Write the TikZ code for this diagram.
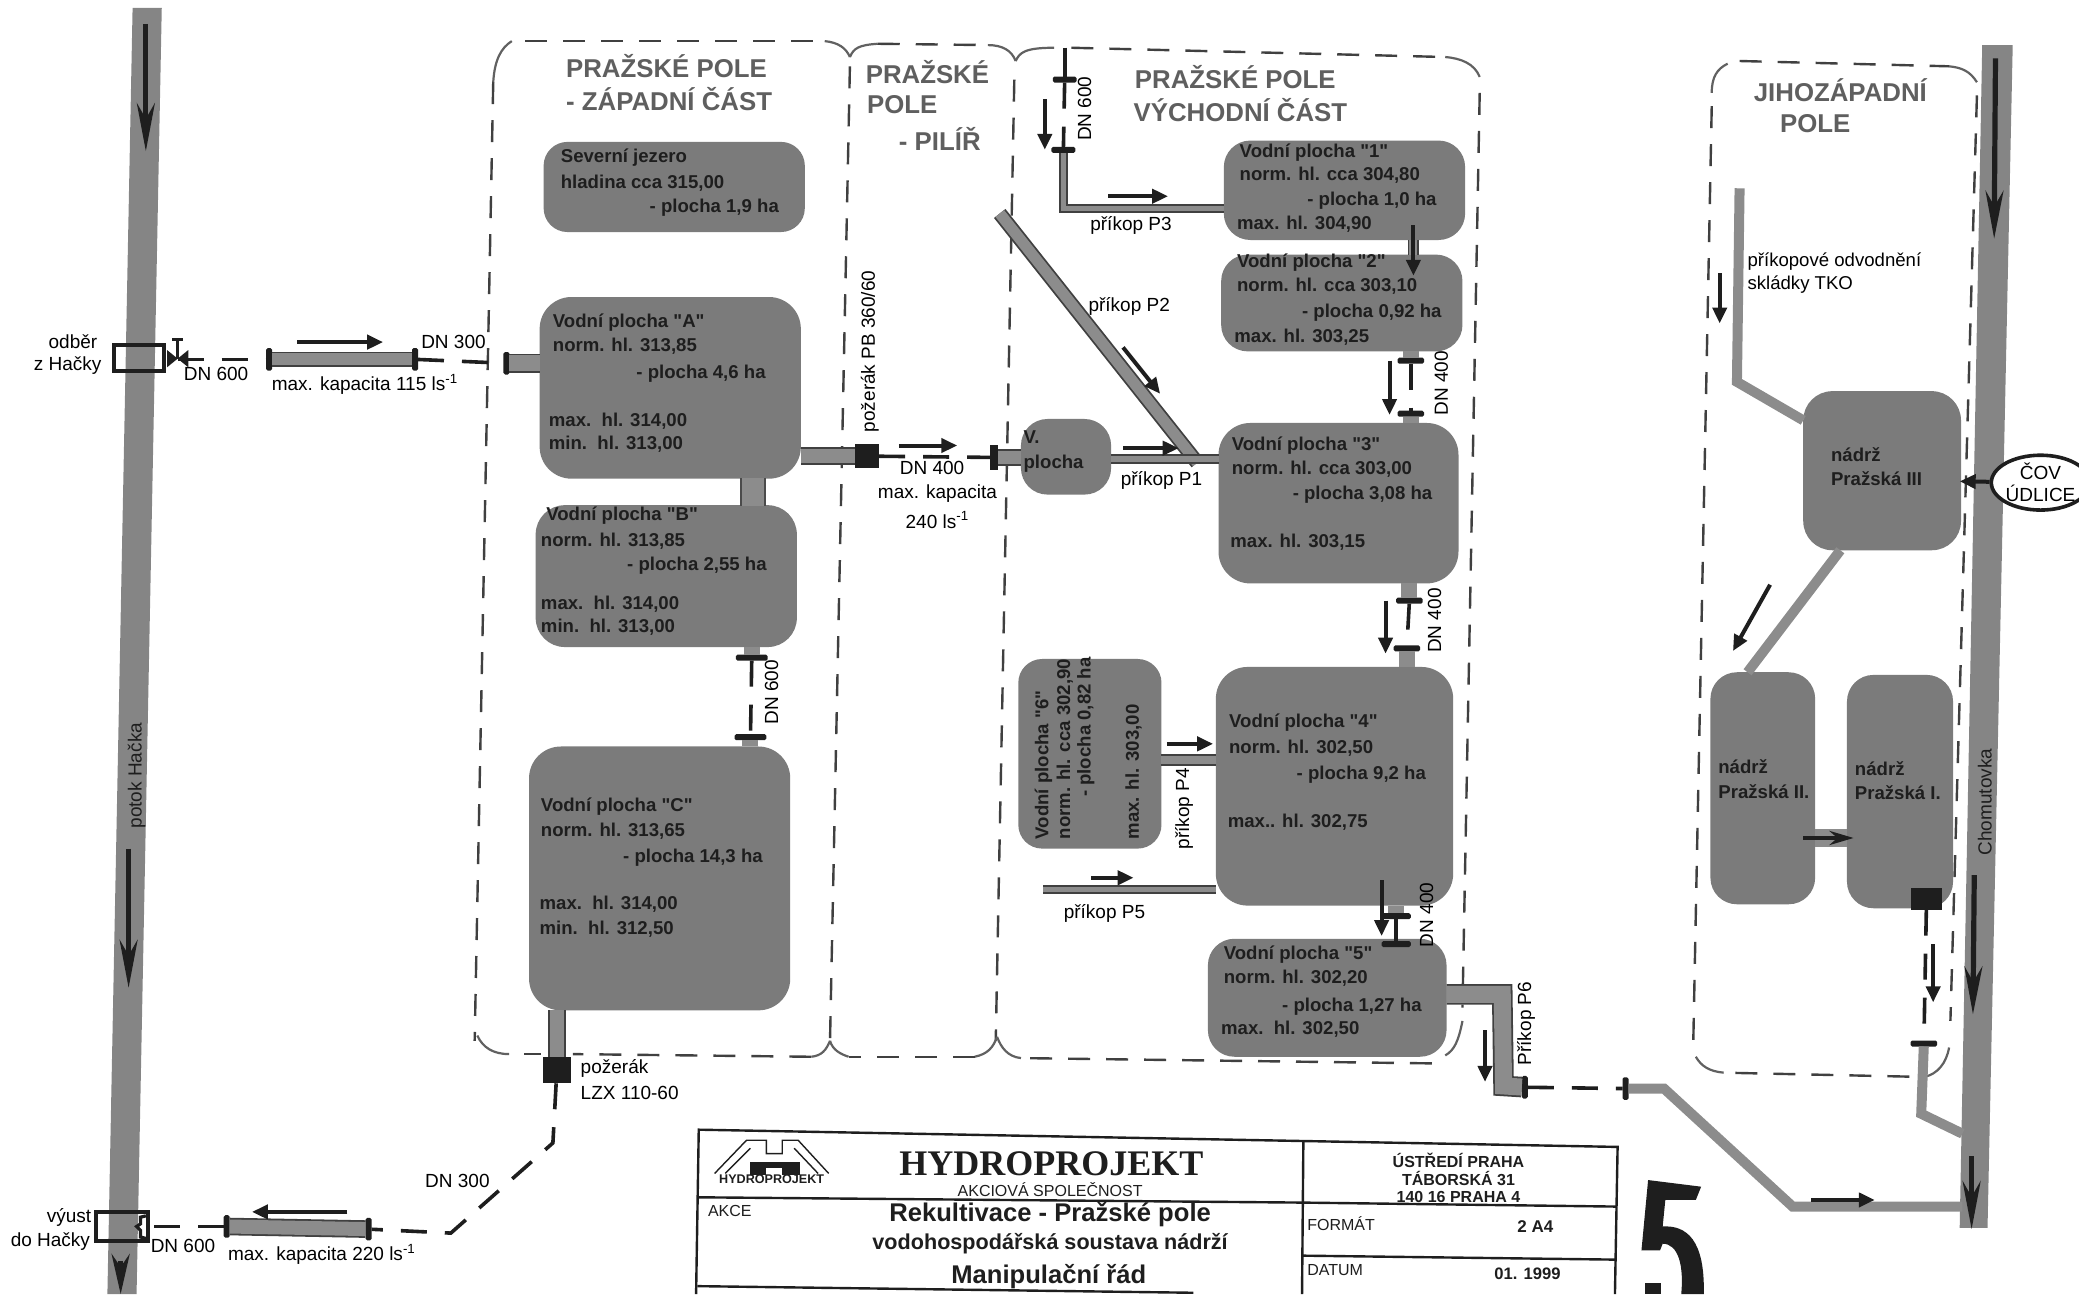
\documentclass[tikz,border=0pt]{standalone}
\usepackage{fontspec}
\setmainfont[Ligatures=TeXOff]{Liberation Sans}
\newfontfamily\serifb{Liberation Serif}
\usetikzlibrary{arrows.meta,calc,shapes.geometric}
\definecolor{pondgray}{HTML}{7B7B7B}
\definecolor{rivergray}{HTML}{858585}
\definecolor{pipegray}{HTML}{8C8C8C}
\definecolor{titlegray}{HTML}{5F5F5F}
\definecolor{ink}{HTML}{1E1E1E}
\newcounter{tn}
\newcommand\lab[4][]{\stepcounter{tn}\node[txt,#1] (t\arabic{tn}) at (#2,#3) {#4};}
\newcommand\pl[3]{\lab[pondtxt]{#1}{#2}{#3}}
\newcommand\pondbox[6][18]{%
  \pgfmathsetmacro\pw{(#5-#3)*0.663}\pgfmathsetmacro\ph{(#6-#4)*0.663}%
  \pgfmathsetmacro\pcx{(#3+#5)/2}\pgfmathsetmacro\pcy{(#4+#6)/2}%
  \pgfmathsetmacro\pr{#1*0.663}%
  \node[pond,minimum width=\pw pt,minimum height=\ph pt,rounded corners=\pr pt] (#2) at (\pcx,\pcy) {};}
\newcommand\flh[4]{\pgfmathsetmacro\pw{#4*0.663}\node[flange,minimum width=\pw pt,minimum height=3pt] (#1) at (#2,#3) {};}
\newcommand\flv[4]{\pgfmathsetmacro\pw{#4*0.663}\node[flange,minimum height=\pw pt,minimum width=3pt] (#1) at (#2,#3) {};}
\newcommand\blk[5]{\pgfmathsetmacro\pw{#4*0.663}\pgfmathsetmacro\ph{#5*0.663}\node[flange,minimum width=\pw pt,minimum height=\ph pt,rounded corners=0pt] (#1) at (#2,#3) {};}
\tikzset{
  txt/.style={inner sep=0pt,outer sep=0pt,font=\fontsize{9.5}{11}\selectfont,text=black},
  pondtxt/.style={anchor=west,font=\fontsize{9.3}{11}\selectfont\bfseries,text=ink},
  ttl/.style={anchor=west,font=\fontsize{12.9}{14}\selectfont\bfseries,text=titlegray},
  pond/.style={fill=pondgray,draw=none,inner sep=0pt,outer sep=0pt},
  flange/.style={fill=ink,draw=none,inner sep=0pt,outer sep=0pt,rounded corners=0.8pt},
  region/.style={draw=ink!85,line width=1.2pt,dash pattern=on 11pt off 8pt},
  corner/.style={draw=ink!70,line width=1.1pt},
  dpipe/.style={draw=ink,line width=1.8pt,dash pattern=on 13pt off 9pt},
  gpipe/.style={draw=ink!85,line width=0.9pt,double=pipegray,double distance=#1},
  wide/.style={draw=pipegray,line width=#1},
  flow/.style={draw=ink,line width=2pt,-{Triangle[length=8pt,width=7pt]}},
  bigflow/.style={draw=ink,line width=2.6pt,-{Stealth[length=24pt,width=9pt]}},
  frame/.style={draw=ink,line width=1.2pt},
  thickbox/.style={draw=ink,line width=2pt,fill=none,inner sep=0pt},
  cov/.style={draw=ink,line width=1.8pt,ellipse,fill=white,inner sep=0pt,minimum width=44pt,minimum height=26pt,align=center,font=\fontsize{9.5}{11}\selectfont},
  tb/.style={anchor=center,text=ink},
  tbl/.style={anchor=west,text=ink,font=\fontsize{8}{9}\selectfont},
}
\begin{document}
\begin{tikzpicture}[x=0.663pt,y=-0.663pt]
\useasboundingbox (0,0) rectangle (1568,976);
% rivers
\fill[rivergray] (100,6) -- (122,6) -- (103,976) -- (81,976) -- cycle;
\fill[rivergray] (1495,34) -- (1518,34) -- (1499,926) -- (1478,926) -- cycle;
\coordinate (hA) at (110,18); \coordinate (hB) at (110,114);
\draw[bigflow] (hA) -- (hB);
\coordinate (hC) at (97,640); \coordinate (hD) at (97,745);
\draw[bigflow] (hC) -- (hD);
\coordinate (hE) at (91,951); \coordinate (hF) at (91,976);
\draw[draw=ink,line width=2.6pt,-{Stealth[length=20pt,width=9pt]}] (hE) -- (hF);
\coordinate (cA) at (1505,44); \coordinate (cB) at (1504,180);
\draw[bigflow] (cA) -- (cB);
\coordinate (cC) at (1489,660); \coordinate (cD) at (1488,765);
\draw[bigflow] (cC) -- (cD);
\coordinate (cE) at (1487,872); \coordinate (cF) at (1487,927);
\draw[bigflow] (cE) -- (cF);
\lab[rotate=90,text=ink]{103}{585}{potok Hačka}
\lab[rotate=90,text=ink]{1497}{605}{Chomutovka}

% regions
\draw[region] (372,62) -- (358,785);
\draw[corner] (372,62) .. controls (373,45) and (378,36) .. (386,31);
\draw[region] (396,31) -- (622,31);
\draw[corner] (622,31) .. controls (632,32) and (638,36) .. (641,43);
\draw[corner] (641,43) .. controls (644,36) and (648,34) .. (662,33);
\draw[region] (662,33) -- (745,34);
\draw[corner] (745,34) .. controls (756,34) and (763,38) .. (766,46);
\draw[corner] (766,46) .. controls (769,40) and (772,36) .. (795,36);
\draw[region] (641,50) -- (626,785);
\draw[region] (765,60) -- (751,785);
\draw[region] (808,36) -- (1090,43);
\draw[corner] (1090,43) .. controls (1102,44) and (1112,48) .. (1116,58);
\draw[region] (1116,70) -- (1103,760);
\draw[corner] (1103,770) .. controls (1100,785) and (1097,792) .. (1090,796);
\draw[region] (1080,802) -- (770,798);
\draw[corner] (770,798) .. controls (760,797) and (755,790) .. (752,782);
\draw[corner] (752,782) .. controls (749,790) and (745,795) .. (735,797);
\draw[region] (735,797) -- (640,797);
\draw[corner] (640,797) .. controls (634,795) and (628,792) .. (626,785);
\draw[corner] (626,785) .. controls (623,792) and (620,796) .. (612,797);
\draw[region] (612,797) -- (432,795);
\draw[region] (408,795) -- (395,795);
\draw[corner] (384,795) .. controls (372,795) and (364,790) .. (360,781);
% JZ region
\draw[region] (1291,80) -- (1277,790);
\draw[corner] (1291,70) .. controls (1291,58) and (1295,52) .. (1303,48);
\draw[region] (1312,46) -- (1470,50);
\draw[corner] (1470,50) .. controls (1480,51) and (1486,54) .. (1491,62);
\draw[region] (1491,72) -- (1471,770);
\draw[corner] (1470,790) .. controls (1468,802) and (1461,810) .. (1452,812);
\draw[region] (1440,812) -- (1300,809);
\draw[corner] (1300,809) .. controls (1289,808) and (1283,804) .. (1279,797);

% titles
\lab[ttl]{427}{50}{PRAŽSKÉ POLE}
\lab[ttl]{427}{75}{- ZÁPADNÍ ČÁST}
\lab[ttl]{653}{54}{PRAŽSKÉ}
\lab[ttl]{654}{79}{POLE}
\lab[ttl]{678}{105}{- PILÍŘ}
\lab[ttl]{856}{58}{PRAŽSKÉ POLE}
\lab[ttl]{855}{83}{VÝCHODNÍ ČÁST}
\lab[ttl,anchor=center]{1388}{68}{JIHOZÁPADNÍ}
\lab[ttl,anchor=center]{1369}{93}{POLE}

% ponds
\pondbox{sev}{410}{107}{607}{175}
\pondbox[24]{A}{407}{224}{604}{361}
\pondbox[22]{B}{404}{381}{601}{488}
\pondbox[24]{C}{399}{563}{596}{762}
\pondbox[20]{v}{770}{316}{838}{373}
\pondbox[20]{p1}{923}{106}{1105}{181}
\pondbox[20]{p2}{921}{192}{1103}{265}
\pondbox[24]{p3}{919}{319}{1100}{440}
\pondbox[24]{p4}{917}{503}{1096}{683}
\pondbox[20]{p5}{911}{708}{1091}{797}
\pondbox[18]{p6}{768}{497}{876}{640}
\pondbox[22]{n3}{1360}{295}{1479}{415}
\pondbox[20]{n2}{1290}{507}{1369}{682}
\pondbox[20]{n1}{1393}{509}{1473}{685}

% west inflow
\node[thickbox,minimum width=25pt,minimum height=13pt] (odb) at (105,270) {};
\lab[anchor=center]{55}{258}{odběr}
\lab[anchor=center]{51}{276}{z Hačky}
\coordinate (vlv) at (134,271);
\fill[ink] (126,264) -- (142,277) -- (142,264) -- (126,277) -- cycle;
\draw[ink,line width=1.3pt] (134,271) -- (134,256) (130,256) -- (138,256);
\flv{fa1}{203}{271}{17}
\flv{fa2}{313}{271}{17}
\draw[dpipe] (vlv) -- (fa1);
\draw[gpipe=6pt] (fa1) -- (fa2);
\flv{fa3}{382}{274}{17}
\draw[dpipe] (fa2) -- (fa3);
\draw[gpipe=8pt] (fa3) -- (A.west |- fa3);
\coordinate (fwA) at (224,258); \coordinate (fwB) at (289,258);
\draw[flow] (fwA) -- (fwB);
\lab[anchor=center]{163}{282}{DN 600}
\lab[anchor=center]{342}{258}{DN 300}
\lab[anchor=west]{205}{290}{max. kapacita 115 ls\textsuperscript{-1}}

% Severni
\pl{423}{119}{Severní jezero}
\pl{423}{138}{hladina cca 315,00}
\pl{490}{157}{- plocha 1,9 ha}
% A
\pl{417}{243}{Vodní plocha "A"}
\pl{417}{261}{norm. hl. 313,85}
\pl{480}{282}{- plocha 4,6 ha}
\pl{414}{318}{max.\ \ hl. 314,00}
\pl{414}{335}{min.\ \ hl. 313,00}
% B
\pl{412}{389}{Vodní plocha "B"}
\pl{408}{408}{norm. hl. 313,85}
\pl{473}{427}{- plocha 2,55 ha}
\pl{408}{456}{max.\ \ hl. 314,00}
\pl{408}{473}{min.\ \ hl. 313,00}
% C
\pl{408}{608}{Vodní plocha "C"}
\pl{408}{627}{norm. hl. 313,65}
\pl{470}{647}{- plocha 14,3 ha}
\pl{407}{682}{max.\ \ hl. 314,00}
\pl{407}{701}{min.\ \ hl. 312,50}

\node[pond,fill=pipegray,minimum width=12pt,minimum height=14pt] (abl) at (568,371) {};
\draw[draw=ink!80,line width=0.8pt] (abl.north west) -- (abl.south west) (abl.north east) -- (abl.south east);
% B-C
\flh{bc1}{567}{496}{24}
\flh{bc2}{566}{556}{24}
\draw[wide=8pt] (B.south -| bc1) -- (bc1);
\draw[wide=8pt] (bc2) -- (C.north -| bc2);
\draw[dpipe] (bc1) -- (bc2);
\lab[rotate=90]{582}{522}{DN 600}
% C exit
\blk{poz}{420}{807}{21}{20}
\draw[gpipe=7pt] (C.south -| poz) -- (poz);
\lab[anchor=west]{438}{806}{požerák}
\lab[anchor=west]{438}{824}{LZX 110-60}
\coordinate (bnd) at (417,862); \coordinate (bnd2) at (340,930);
\flv{fc2}{278}{927}{17}
\flv{fc1}{171}{925}{17}
\draw[dpipe] (poz) -- (bnd) -- (bnd2) -- (fc2);
\draw[gpipe=7pt] (fc2) -- (fc1);
\node[thickbox,minimum width=26pt,minimum height=14.5pt] (vys) at (92,925) {};
\draw[dpipe] (fc1) -- (vys.east);
\draw[ink,line width=1.6pt] (110,917) -- (106,918) -- (106,923) -- (103,925) -- (106,928) -- (106,933) -- (110,934);
\coordinate (bkA) at (262,914); \coordinate (bkB) at (190,914);
\draw[flow] (bkA) -- (bkB);
\lab[anchor=center]{345}{891}{DN 300}
\lab[anchor=center]{52}{918}{výust}
\lab[anchor=center]{38}{936}{do Hačky}
\lab[anchor=center]{138}{940}{DN 600}
\lab[anchor=west]{172}{946}{max. kapacita 220 ls\textsuperscript{-1}}

% A -> V plocha
\blk{pozb}{654}{344}{18}{18}
\draw[gpipe=7pt] (A.east |- pozb) -- (pozb);
\lab[rotate=90]{656}{265}{požerák PB 360/60}
\blk{fv}{750}{345}{6}{19}
\draw[dpipe] (pozb) -- (fv);
\draw[gpipe=6.5pt] (fv) -- (v.west |- fv);
\coordinate (dvA) at (678,336); \coordinate (dvB) at (722,336);
\draw[flow] (dvA) -- (dvB);
\lab[anchor=center]{703}{353}{DN 400}
\lab[anchor=center]{707}{372}{max. kapacita}
\lab[anchor=center]{707}{392}{240 ls\textsuperscript{-1}}
\pl{772}{330}{V.}
\pl{772}{350}{plocha}

% P2
\coordinate (p2a) at (754,161); \coordinate (p2b) at (903,349);
\draw[gpipe=5.5pt] (p2a) -- (p2b);
% P1
\coordinate (p1y) at (880,346);
\draw[gpipe=3pt] (v.east |- p1y) -- (p3.west |- p1y);
\coordinate (f1a) at (847,338); \coordinate (f1b) at (889,338);
\draw[flow] (f1a) -- (f1b);
\lab[anchor=center]{876}{362}{příkop P1}
\coordinate (f2a) at (847,262); \coordinate (f2b) at (875,297);
\draw[flow] (f2a) -- (f2b);
\lab[anchor=west]{821}{231}{příkop P2}

% DN600 upper + P3
\coordinate (tp) at (803,36);
\flh{u1}{803}{60}{18}
\flh{u2}{802}{113}{18}
\coordinate (u3) at (802,157);
\draw[ink,line width=2pt] (tp) -- (u1);
\draw[dpipe] (u1) -- (u2);
\draw[gpipe=2.6pt] (u2) -- (u3) -- (p1.west |- u3);
\coordinate (g1) at (788,75); \coordinate (g2) at (788,113);
\draw[flow] (g1) -- (g2);
\lab[rotate=90]{818}{82}{DN 600}
\coordinate (g3) at (836,148); \coordinate (g4) at (881,148);
\draw[flow] (g3) -- (g4);
\lab[anchor=center]{853}{170}{příkop P3}

% pond texts east
\pl{935}{115}{Vodní plocha "1"}
\pl{935}{132}{norm. hl. cca 304,80}
\pl{986}{151}{- plocha 1,0 ha}
\pl{933}{169}{max. hl. 304,90}
\pl{933}{198}{Vodní plocha "2"}
\pl{933}{216}{norm. hl. cca 303,10}
\pl{982}{236}{- plocha 0,92 ha}
\pl{931}{254}{max. hl. 303,25}
\pl{929}{336}{Vodní plocha "3"}
\pl{929}{354}{norm. hl. cca 303,00}
\pl{975}{373}{- plocha 3,08 ha}
\pl{928}{409}{max. hl. 303,15}
\pl{927}{545}{Vodní plocha "4"}
\pl{927}{564}{norm. hl. 302,50}
\pl{978}{584}{- plocha 9,2 ha}
\pl{926}{620}{max.. hl. 302,75}
\pl{923}{720}{Vodní plocha "5"}
\pl{923}{738}{norm. hl. 302,20}
\pl{967}{759}{- plocha 1,27 ha}
\pl{921}{776}{max.\ \ hl. 302,50}
\lab[pondtxt,rotate=90,anchor=west]{787}{633}{Vodní plocha "6"}
\lab[pondtxt,rotate=90,anchor=west]{803}{633}{norm. hl. cca 302,90}
\lab[pondtxt,rotate=90,anchor=west]{819}{601}{- plocha 0,82 ha}
\lab[pondtxt,rotate=90,anchor=west]{855}{633}{max. hl. 303,00}

% 1->2
\coordinate (c12) at (1066,186);
\draw[gpipe=4pt] (p1.south -| c12) -- (p2.north -| c12);
\coordinate (h1) at (1066,170); \coordinate (h2) at (1066,208);
\draw[flow] (h1) -- (h2);
% 2->3
\flh{d1}{1064}{272}{20}
\flh{d2}{1064}{312}{20}
\draw[wide=8pt] (p2.south -| d1) -- (d1);
\draw[wide=8pt] (d2) -- (p3.north -| d2);
\draw[dpipe] (d1) -- (d2);
\coordinate (h3) at (1048,272); \coordinate (h4) at (1048,313);
\draw[flow] (h3) -- (h4);
\lab[rotate=90]{1087}{289}{DN 400}
% 3->4
\flh{d3}{1063}{453}{20}
\flh{d4}{1061}{489}{20}
\draw[wide=8pt] (p3.south -| d3) -- (d3);
\draw[wide=8pt] (d4) -- (p4.north -| d4);
\draw[dpipe] (d3) -- (d4);
\coordinate (h5) at (1045,453); \coordinate (h6) at (1045,493);
\draw[flow] (h5) -- (h6);
\lab[rotate=90]{1082}{468}{DN 400}
% 4->5
\flh{d5}{1053}{691}{22}
\flh{d6}{1053}{712}{22}
\draw[wide=8pt] (p4.south -| d5) -- (d5);
\draw[dpipe] (d5) -- (d6);
\coordinate (h7) at (1042,664); \coordinate (h8) at (1042,706);
\draw[flow] (h7) -- (h8);
\lab[rotate=90]{1076}{690}{DN 400}
% P4, P5
\coordinate (p4y) at (896,573);
\draw[gpipe=4pt] (p6.east |- p4y) -- (p4.west |- p4y);
\coordinate (h9) at (880,561); \coordinate (h10) at (915,561);
\draw[flow] (h9) -- (h10);
\lab[rotate=90]{893}{610}{příkop P4}
\coordinate (p5s) at (787,671);
\draw[gpipe=2.6pt] (p5s) -- (p4.west |- p5s);
\coordinate (h11) at (823,662); \coordinate (h12) at (855,662);
\draw[flow] (h11) -- (h12);
\lab[anchor=center]{833}{689}{příkop P5}
% P6
\coordinate (q1) at (1133,750); \coordinate (q2) at (1134,819);
\flv{q3}{1150}{820}{17}
\draw[gpipe=8.5pt] (p5.east |- q1) -- (q1) -- (q2) -- (q3);
\coordinate (h13) at (1120,777); \coordinate (h14) at (1120,816);
\draw[flow] (h13) -- (h14);
\lab[rotate=90]{1151}{772}{Příkop P6}
\flv{q4}{1226}{821}{17}
\draw[dpipe] (q3) -- (q4);
\coordinate (q5) at (1255,821); \coordinate (q6) at (1352,910); \coordinate (q7) at (1480,910);
\draw[wide=5pt] (q4) -- (q5) -- (q6) -- (q7);
\coordinate (h15) at (1366,905); \coordinate (h16) at (1414,905);
\draw[flow] (h15) -- (h16);

% JZ
\coordinate (k1) at (1312,142); \coordinate (k2) at (1310,288); \coordinate (k0) at (1340,317);
\draw[wide=5pt] (k1) -- (k2) -- (n3.west |- k0);
\coordinate (k3) at (1297,206); \coordinate (k4) at (1297,244);
\draw[flow] (k3) -- (k4);
\lab[anchor=west,font=\fontsize{9.3}{10}\selectfont]{1318}{197}{příkopové odvodnění}
\lab[anchor=west,font=\fontsize{9.3}{10}\selectfont]{1318}{215}{skládky TKO}
\pl{1381}{343}{nádrž}
\pl{1381}{361}{Pražská III}
\pl{1296}{578}{nádrž}
\pl{1296}{597}{Pražská II.}
\pl{1399}{580}{nádrž}
\pl{1399}{598}{Pražská I.}
\coordinate (m1) at (1388,400); \coordinate (m2) at (1318,520);
\draw[wide=5pt] (n3.south -| m1) -- (n2.north -| m2);
\coordinate (k5) at (1335,441); \coordinate (k6) at (1307,491);
\draw[flow] (k5) -- (k6);
\coordinate (m3) at (1380,632);
\draw[wide=9pt] (n2.east |- m3) -- (n1.west |- m3);
\coordinate (k7) at (1360,632); \coordinate (k8) at (1398,632);
\draw[ink,line width=2pt,-{Stealth[length=12pt,width=7pt]}] (k7) -- (k8);
\blk{s1}{1453}{678}{24}{16}
\flh{s2}{1451}{787}{20}
\draw[dpipe] (s1) -- (s2);
\coordinate (s3) at (1449,840);
\coordinate (s4) at (1480,855);
\draw[wide=5pt] (s2) -- (s3) -- (s4);
\coordinate (k9) at (1458,712); \coordinate (k10) at (1458,756);
\draw[flow] (k9) -- (k10);
\node[cov] (cov) at (1539,364) {ČOV\\ÚDLICE};
\coordinate (k11) at (1478,363);
\draw[flow] (cov) -- (k11);

% title block
\coordinate (b1) at (527,852); \coordinate (b2) at (1220,865);
\coordinate (b3) at (525,976); \coordinate (b4) at (1218,976);
\coordinate (b5) at (983,861); \coordinate (b6) at (982,976);
\draw[frame] (b3) -- (b1) -- (b2) -- (b4);
\draw[frame] (b5) -- (b6);
\coordinate (b7) at (527,903); \coordinate (b8) at (983,907);
\coordinate (b9) at (1219,910); \coordinate (b10) at (982,947); \coordinate (b11) at (1218,950);
\coordinate (b12) at (526,970); \coordinate (b13) at (900,975);
\draw[frame] (b7) -- (b8) -- (b9);
\draw[frame] (b10) -- (b11);
\draw[frame] (b12) -- (b13);
% logo
\draw[ink,line width=0.7pt] (539,885) -- (563,860) -- (578,860) -- (578,870) -- (590,870) -- (590,860) -- (602,860) -- (625,885);
\draw[ink,line width=0.7pt] (547,885) -- (566,866) (617,885) -- (599,866);
\fill[ink] (566,876) rectangle (603,886);
\fill[white] (578,881) rectangle (590,886);
\lab[anchor=center,font=\fontsize{6.3}{7}\selectfont\bfseries,text=ink]{582}{889}{HYDROPROJEKT}
\lab[anchor=center,font=\fontsize{18}{20}\selectfont\serifb\bfseries,text=ink]{793}{878}{HYDROPROJEKT}
\lab[tb,font=\fontsize{8}{9}\selectfont]{792}{897}{AKCIOVÁ SPOLEČNOST}
\lab[tbl]{534}{913}{AKCE}
\lab[tb,font=\fontsize{12.8}{14}\selectfont\bfseries]{792}{916}{Rekultivace - Pražské pole}
\lab[tb,font=\fontsize{10.8}{12}\selectfont\bfseries]{792}{938}{vodohospodářská soustava nádrží}
\lab[tb,font=\fontsize{12.8}{14}\selectfont\bfseries]{791}{963}{Manipulační řád}
\lab[tb,font=\fontsize{8}{9}\selectfont\bfseries]{1100}{875}{ÚSTŘEDÍ PRAHA}
\lab[tb,font=\fontsize{8}{9}\selectfont\bfseries]{1100}{889}{TÁBORSKÁ 31}
\lab[tb,font=\fontsize{8}{9}\selectfont\bfseries]{1100}{903}{140 16 PRAHA 4}
\lab[tbl]{986}{923}{FORMÁT}
\lab[tb,font=\fontsize{8.5}{10}\selectfont\bfseries]{1158}{925}{2 A4}
\lab[tbl]{986}{958}{DATUM}
\lab[tb,font=\fontsize{8.3}{10}\selectfont\bfseries]{1152}{961}{01. 1999}
% handwritten 5
\fill[ink] (1243,890) -- (1283,895) -- (1279,905) -- (1256,905) -- (1254,925) .. controls (1272,924) and (1286,935) .. (1285,976) -- (1268,976) .. controls (1270,955) and (1266,938) .. (1254,938) -- (1252,943) -- (1238,943) -- cycle;
\fill[ink] (1241,968) rectangle (1253,976);
\end{tikzpicture}
\end{document}
